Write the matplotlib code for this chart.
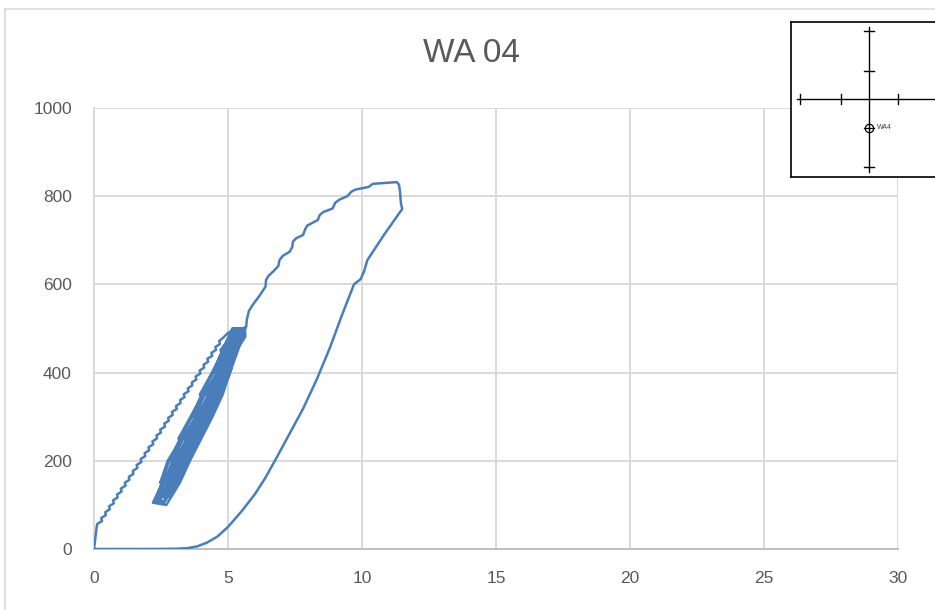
import matplotlib
matplotlib.use('Agg')
import matplotlib.pyplot as plt
from matplotlib.lines import Line2D

plt.rcParams['font.family'] = ['Liberation Sans Narrow', 'Liberation Sans', 'DejaVu Sans']

# loading branch with small wiggles, from origin to the start of the cycles
load_x = [0.0, 0.10, 0.12, 0.30, 0.27, 0.44, 0.42, 0.59, 0.56, 0.74, 0.71, 0.88, 0.86, 1.03, 1.00,
          1.18, 1.15, 1.32, 1.30, 1.47, 1.45, 1.62, 1.59, 1.77, 1.74, 1.91, 1.89, 2.06, 2.03,
          2.21, 2.18, 2.35, 2.33, 2.50, 2.47, 2.65, 2.62, 2.79, 2.77, 2.94, 2.91, 3.09, 3.06,
          3.23, 3.21, 3.38, 3.35, 3.53, 3.50, 3.67, 3.65, 3.82, 3.79, 3.97, 3.94, 4.11, 4.09,
          4.26, 4.23, 4.41, 4.38, 4.55, 4.53, 4.70, 4.67, 4.80, 5.0]
load_y = [0, 50, 56.7, 63.4, 70.1, 76.8, 83.5, 90.1, 96.8, 103.5, 110.2, 116.9, 123.6, 130.3, 137.0,
          143.7, 150.4, 157.0, 163.7, 170.4, 177.1, 183.8, 190.5, 197.2, 203.9, 210.6, 217.3, 223.9, 230.6,
          237.3, 244.0, 250.7, 257.4, 264.1, 270.8, 277.5, 284.2, 290.8, 297.5, 304.2, 310.9, 317.6, 324.3,
          331.0, 337.7, 344.4, 351.1, 357.7, 364.4, 371.1, 377.8, 384.5, 391.2, 397.9, 404.6, 411.3, 418.0,
          424.6, 431.3, 438.0, 444.7, 451.4, 458.1, 464.8, 471.5, 478, 490]

# repeated cycles between ~100 and ~500 (down along the left side with curls, up along the right)
cyc_x = [5.30, 5.10, 4.72, 4.86, 4.76, 4.40, 3.95, 4.10, 3.98, 3.60, 3.15, 3.30, 3.18, 2.75, 2.47, 2.60, 2.49, 2.20,
         2.70, 3.20, 3.58, 4.00, 4.42, 4.80, 5.07, 5.37, 5.60,
         5.16, 4.78, 4.46, 4.01, 3.66, 3.21, 2.81, 2.53, 2.28,
         2.95, 3.33, 3.75, 4.17, 4.55, 4.82, 5.12, 5.35,
         5.45, 5.22, 4.84, 4.52, 4.66, 4.55, 4.07, 3.72, 3.86, 3.75, 3.27, 2.87, 3.01, 2.90, 2.59, 2.32,
         2.60, 3.10, 3.48, 3.90, 4.32, 4.70, 4.97, 5.27, 5.52,
         5.28, 4.90, 4.58, 4.13, 3.78, 3.33, 2.93, 2.65, 2.40,
         2.85, 3.23, 3.65, 4.07, 4.45, 4.72, 5.02, 5.25,
         5.40, 5.34, 4.96, 5.10, 4.99, 4.64, 4.19, 4.33, 4.22, 3.84, 3.39, 3.53, 3.42, 2.99, 2.71, 2.85, 2.74, 2.44,
         2.62, 3.00, 3.38, 3.80, 4.22, 4.60, 4.87, 5.17, 5.50,
         5.40, 5.02, 4.70, 4.25, 3.90, 3.45, 3.05, 2.77, 2.50,
         2.78, 3.16, 3.58, 4.00, 4.38, 4.65, 4.95, 5.18,
         5.42, 5.46, 5.08, 4.76, 4.90, 4.79, 4.31, 3.96, 4.10, 3.99, 3.51, 3.11, 3.25, 3.14, 2.83, 2.56,
         2.70, 2.95, 3.28, 3.70, 4.12, 4.50, 4.77, 5.07, 5.45,
         5.52, 5.14, 4.82, 4.37, 4.02, 3.57, 3.17, 2.89, 2.60,
         3.08, 3.46, 3.88, 4.30, 4.68, 4.95, 5.25, 5.48,
         5.55, 5.60, 5.22, 5.36, 5.25, 4.90, 4.45, 4.59, 4.48, 4.10, 3.65, 3.79, 3.68, 3.25, 2.97, 3.11, 3.00, 2.65,
         2.80, 3.15, 3.53, 3.95, 4.37, 4.75, 5.02, 5.32, 5.58,
         5.62, 5.65, 5.32, 5.00, 5.14, 5.03, 4.55, 4.20, 4.34, 4.23, 3.75, 3.35, 3.49, 3.38, 3.07, 2.75,
         2.90, 3.05, 3.43, 3.85, 4.27, 4.65, 4.92, 5.22, 5.62]
cyc_y = [498, 480, 450, 462, 444, 400, 350, 360, 342, 300, 250, 260, 242, 200, 150, 160, 142, 105,
         100, 150, 200, 250, 300, 350, 400, 450, 500,
         500, 450, 400, 350, 300, 250, 200, 150, 108,
         150, 200, 250, 300, 350, 400, 450, 500,
         496, 475, 450, 400, 412, 392, 350, 300, 312, 292, 250, 200, 212, 192, 150, 110,
         104, 150, 200, 250, 300, 350, 400, 450, 500,
         500, 450, 400, 350, 300, 250, 200, 150, 114,
         150, 200, 250, 300, 350, 400, 450, 500,
         497, 480, 450, 462, 442, 400, 350, 362, 342, 300, 250, 262, 242, 200, 150, 162, 142, 112,
         108, 150, 200, 250, 300, 350, 400, 450, 500,
         500, 450, 400, 350, 300, 250, 200, 150, 116,
         150, 200, 250, 300, 350, 400, 450, 500,
         498, 480, 450, 400, 412, 392, 350, 300, 312, 292, 250, 200, 212, 192, 150, 118,
         115, 150, 200, 250, 300, 350, 400, 450, 500,
         500, 450, 400, 350, 300, 250, 200, 150, 118,
         150, 200, 250, 300, 350, 400, 450, 500,
         500, 480, 450, 462, 442, 400, 350, 362, 342, 300, 250, 262, 242, 200, 150, 162, 142, 120,
         118, 150, 200, 250, 300, 350, 400, 450, 500,
         502, 482, 450, 400, 412, 392, 350, 300, 312, 292, 250, 200, 212, 192, 150, 125,
         122, 150, 200, 250, 300, 350, 400, 450, 502]

# loading to peak
peak_x = [5.63, 5.68, 5.70, 5.78, 5.95, 6.15, 6.40, 6.42, 6.52, 6.70, 6.88, 6.92, 7.05, 7.30, 7.40, 7.42,
          7.55, 7.80, 7.88, 7.95, 8.10, 8.35, 8.42, 8.55, 8.90, 9.00, 9.15, 9.45, 9.60, 9.75, 10.0,
          10.25, 10.4, 11.3, 11.38, 11.42, 11.45, 11.5]
peak_y = [497, 505, 519, 540, 556, 572, 595, 610, 620, 630, 642, 655, 665, 674, 685, 697,
          705, 712, 725, 733, 738, 746, 757, 764, 772, 785, 792, 800, 810, 815, 818,
          821, 828, 832, 826, 810, 785, 771]

# unloading branch back to zero
unload_x = [10.85, 10.2, 10.08, 9.95, 9.7, 9.25, 8.8, 8.3, 7.8, 7.3, 6.83, 6.4, 6.0, 5.5,
            5.0, 4.6, 4.2, 3.85, 3.5, 3.0, 2.0, 0.0]
unload_y = [715, 655, 630, 612, 600, 530, 456, 383, 318, 262, 209, 162, 124, 85,
            50, 28, 14, 6, 2, 0.5, 0, 0]

x = load_x + cyc_x + peak_x + unload_x
y = load_y + cyc_y + peak_y + unload_y

W, H = 935, 610
fig = plt.figure(figsize=(W / 100, H / 100), dpi=100)
ax = fig.add_axes([94 / W, 1 - 549 / H, (898 - 94) / W, (549 - 108) / H])

ax.plot(x, y, color='#4a7ebb', lw=1.8, solid_joinstyle='round', zorder=3)

ax.set_xlim(0, 30)
ax.set_ylim(0, 1000)
ax.set_xticks(range(0, 31, 5))
ax.set_yticks(range(0, 1001, 200))
ax.grid(True, color='#d9d9d9', lw=1.4)
ax.set_axisbelow(True)
for s in ['top', 'right']:
    ax.spines[s].set_visible(False)
ax.spines['left'].set_color('#d9d9d9')
ax.spines['left'].set_linewidth(1.4)
ax.spines['bottom'].set_color('#bfbfbf')
ax.spines['bottom'].set_linewidth(1.4)
ax.tick_params(length=0, labelsize=12.5, labelcolor='#595959')
ax.tick_params(axis='x', pad=16)
ax.tick_params(axis='y', pad=16)

fig.text(472 / W, 1 - 53 / H, 'WA 04', ha='center', va='center', fontsize=24, color='#595959')

# chart border (left and top edges visible)
fig.add_artist(Line2D([5 / W, 5 / W], [0, 1 - 9 / H], color='#d9d9d9', lw=1.2))
fig.add_artist(Line2D([5 / W, 1], [1 - 9 / H, 1 - 9 / H], color='#d9d9d9', lw=1.2))

# location sketch in the top right corner
ins = fig.add_axes([791 / W, 1 - 177 / H, (940 - 791) / W, (177 - 22) / H])
ins.set_xlim(791, 940)
ins.set_ylim(177, 22)
ins.set_xticks([])
ins.set_yticks([])
ins.patch.set_facecolor('white')
for s in ins.spines.values():
    s.set_color('black')
    s.set_linewidth(1.2)
ins.plot([797, 940], [99, 99], color='black', lw=1)
ins.plot([869, 869], [27, 172], color='black', lw=1)
for tx in [800, 841, 898]:
    ins.plot([tx, tx], [94, 104], color='black', lw=1)
for ty in [31, 71, 167]:
    ins.plot([864, 874], [ty, ty], color='black', lw=1)
ins.plot([869], [128], marker='o', ms=6, mfc='none', mec='black', mew=0.9)
ins.plot([864, 874], [128, 128], color='black', lw=0.9)
ins.text(877, 128, 'WA4', fontsize=5, va='center', ha='left', color='#404040')

fig.savefig('out.png', dpi=100)
